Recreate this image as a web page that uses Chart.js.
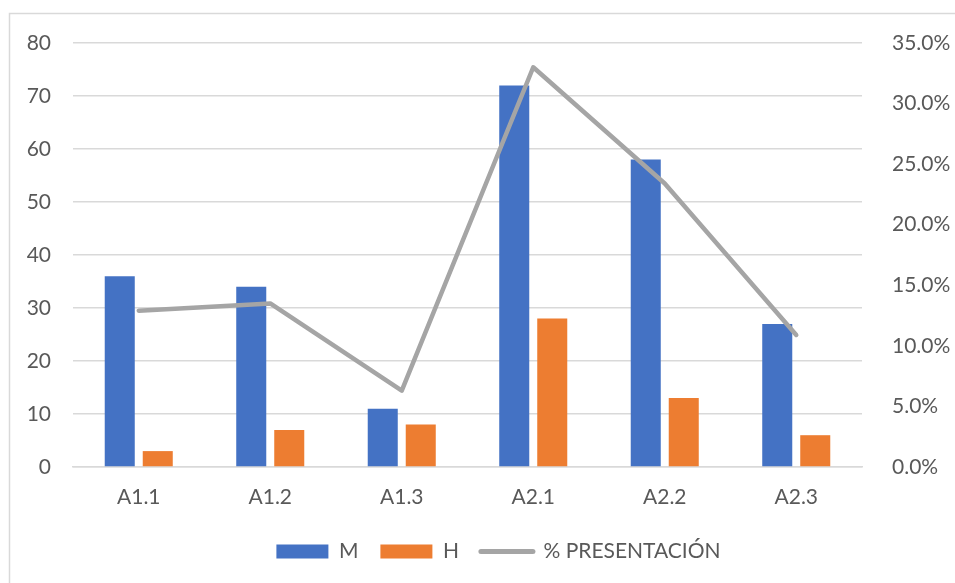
<!DOCTYPE html>
<html>
<head>
<meta charset="utf-8">
<script src="https://cdn.jsdelivr.net/npm/chart.js@4"></script>
<style>
  html, body { margin: 0; padding: 0; background: #ffffff; }
  #wrap { position: relative; width: 955px; height: 583px; }
</style>
</head>
<body>
<div id="wrap"><canvas id="c" width="955" height="583"></canvas></div>
<script>
// Categories and series
const categories = ['A1.1', 'A1.2', 'A1.3', 'A2.1', 'A2.2', 'A2.3'];
const seriesM = [36, 34, 11, 72, 58, 27];
const seriesH = [3, 7, 8, 28, 13, 6];
const presentacionPct = [12.9, 13.5, 6.3, 33.0, 23.4, 10.9];

const TEXT = '#595959';
const GRID = '#d9d9d9';
const FONT = { family: 'Lato, "Open Sans", sans-serif', size: 21 };

// outer frame of the chart object
const framePlugin = {
  id: 'frame',
  beforeDraw(chart) {
    const ctx = chart.ctx;
    ctx.save();
    ctx.fillStyle = '#ffffff';
    ctx.fillRect(0, 0, chart.width, chart.height);
    ctx.strokeStyle = GRID;
    ctx.lineWidth = 1.5;
    ctx.strokeRect(9.5, 13.5, 1200, 1200);
    ctx.restore();
  }
};

// nudge the legend row to the right
const legendShift = {
  id: 'legendShift',
  afterLayout(chart) {
    const lg = chart.legend;
    if (lg) { lg.left += 21; lg.right += 21; }
  }
};

new Chart(document.getElementById('c'), {
  type: 'bar',
  data: {
    labels: categories,
    datasets: [
      {
        type: 'line',
        label: '% PRESENTACIÓN',
        data: presentacionPct,
        yAxisID: 'y1',
        borderColor: '#a5a5a5',
        backgroundColor: '#a5a5a5',
        borderWidth: 4.5,
        pointRadius: 0,
        borderJoinStyle: 'round',
        borderCapStyle: 'round',
        tension: 0,
        order: 0
      },
      {
        label: 'M',
        data: seriesM,
        backgroundColor: '#4472c4',
        categoryPercentage: 0.578,
        barPercentage: 0.79,
        order: 1
      },
      {
        label: 'H',
        data: seriesH,
        backgroundColor: '#ed7d31',
        categoryPercentage: 0.578,
        barPercentage: 0.79,
        order: 1
      }
    ]
  },
  options: {
    responsive: false,
    animation: false,
    devicePixelRatio: 1,
    layout: { padding: { top: 43, bottom: 11, left: 0, right: 0 } },
    plugins: {
      tooltip: { enabled: false },
      legend: {
        position: 'bottom',
        labels: {
          usePointStyle: true,
          pointStyleWidth: 52,
          boxHeight: 14,
          padding: 22,
          color: TEXT,
          font: FONT,
          generateLabels(chart) {
            // bars first, then the line
            const ds = chart.data.datasets;
            const order = [1, 2, 0];
            return order.map(i => {
              const d = ds[i];
              const isLine = d.type === 'line';
              return {
                text: d.label,
                datasetIndex: i,
                fillStyle: isLine ? 'rgba(0,0,0,0)' : d.backgroundColor,
                strokeStyle: isLine ? d.borderColor : d.backgroundColor,
                lineWidth: isLine ? 5 : 0,
                lineCap: 'round',
                pointStyle: isLine ? 'line' : 'rect',
                fontColor: TEXT,
                hidden: false
              };
            });
          }
        }
      }
    },
    scales: {
      x: {
        offset: true,
        grid: { display: false, drawTicks: false },
        border: { display: true, color: GRID, width: 1.5 },
        ticks: { color: TEXT, font: FONT, padding: 18 },
        afterFit(scale) { scale.height = 52; }
      },
      y: {
        position: 'left',
        min: 0,
        max: 80,
        ticks: { stepSize: 10, color: TEXT, font: FONT, padding: 22 },
        grid: { color: GRID, lineWidth: 1.5, drawTicks: false },
        border: { display: false },
        afterFit(scale) { scale.width = 73; }
      },
      y1: {
        position: 'right',
        min: 0,
        max: 35,
        ticks: {
          stepSize: 5,
          color: TEXT,
          font: FONT,
          padding: 30,
          callback: v => v.toFixed(1) + '%'
        },
        grid: { display: false, drawTicks: false },
        border: { display: false },
        afterFit(scale) { scale.width = 93; }
      }
    }
  },
  plugins: [framePlugin, legendShift]
});
</script>
</body>
</html>
